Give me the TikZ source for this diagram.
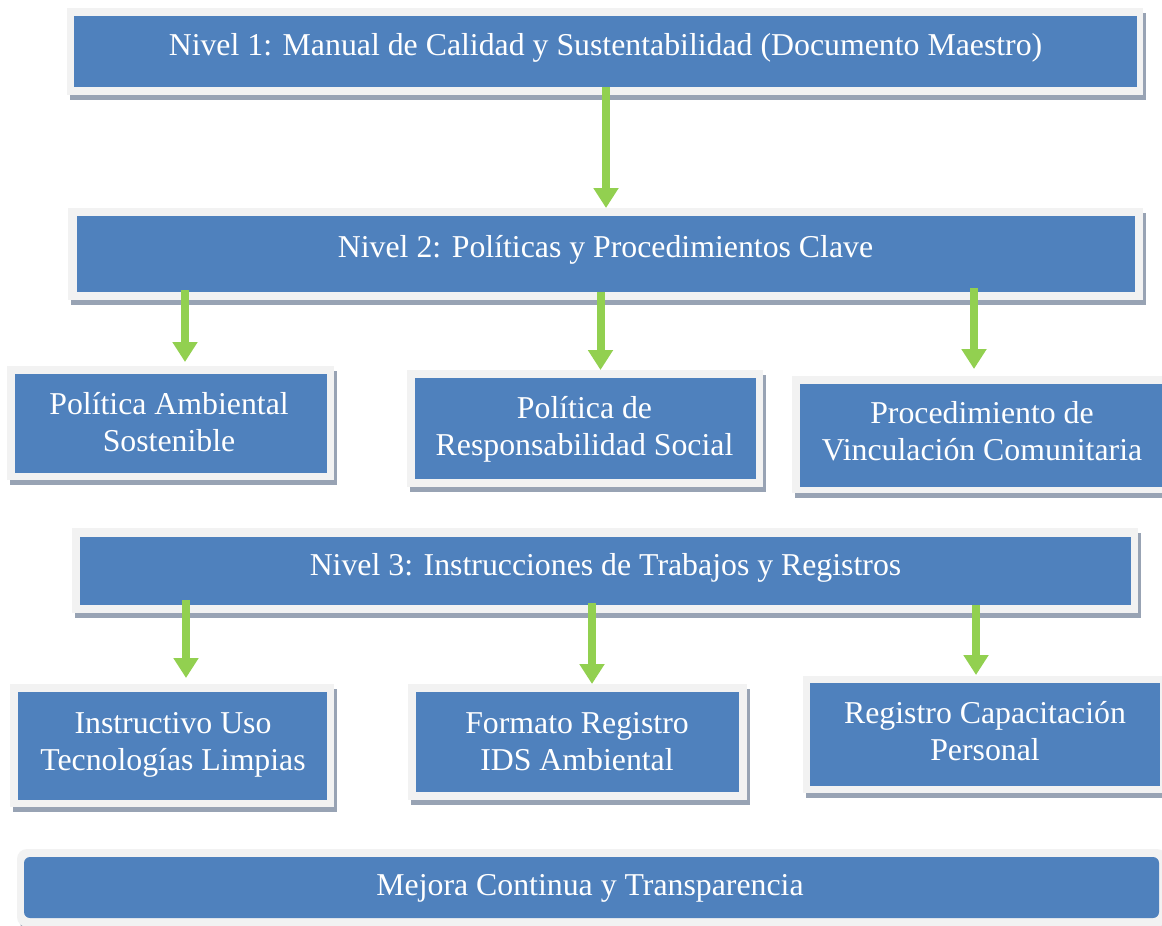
\documentclass[tikz,border=0pt]{standalone}
\usepackage{fontspec}
\setmainfont{Liberation Serif}
\usetikzlibrary{arrows.meta,shadows,fit,calc}
\definecolor{boxblue}{HTML}{4F81BD}
\definecolor{framegray}{HTML}{F2F2F2}
\definecolor{shadowgray}{HTML}{98A3B4}
\definecolor{arrowgreen}{HTML}{92D050}
\begin{document}
\begin{tikzpicture}[x=1pt,y=-1pt,
  frame/.style={fill=framegray, draw=none, inner sep=0pt, outer sep=0pt,
    general shadow={fill=shadowgray, shadow xshift=3pt, shadow yshift=-5pt}},
  inbox/.style={fill=boxblue, draw=none, inner sep=0pt, outer sep=0pt},
  txt/.style={text=white, font=\fontsize{31.8}{37}\selectfont, inner sep=0pt, anchor=base},
  arr/.style={draw=arrowgreen, line width=8pt, -{Triangle[width=24pt,length=20pt]}}]
\useasboundingbox (0,0) rectangle (1162,926);
\clip (0,0) rectangle (1162,926);
\fill[white] (0,0) rectangle (1162,926);

% Level 1
\node[frame, fit={(67,8) (1143,95)}] (n1) {};
\node[inbox, fit={(74,16) (1137,87)}] (n1in) {};
% Level 2
\node[frame, fit={(68,208) (1143,300)}] (n2) {};
\node[inbox, fit={(77,216) (1135,292)}] (n2in) {};
% Row 2 boxes
\node[frame, fit={(7,366) (334,480)}] (pa) {};
\node[inbox, fit={(15,374) (327,473)}] (pain) {};
\node[frame, fit={(407,370) (763,487)}] (pb) {};
\node[inbox, fit={(415,378) (756,479)}] (pbin) {};
\node[frame, fit={(792,376) (1178,493)}] (pc) {};
\node[inbox, fit={(800,384) (1170,487)}] (pcin) {};
% Level 3
\node[frame, fit={(72,528) (1138,613)}] (n3) {};
\node[inbox, fit={(80,537) (1131,605)}] (n3in) {};
% Row 3 boxes
\node[frame, fit={(10,684) (334,807)}] (pd) {};
\node[inbox, fit={(18,692) (327,800)}] (pdin) {};
\node[frame, fit={(408,684) (747,800)}] (pe) {};
\node[inbox, fit={(416,692) (739,792)}] (pein) {};
\node[frame, fit={(803,676) (1168,793)}] (pf) {};
\node[inbox, fit={(810,683) (1160,786)}] (pfin) {};
% Bottom box
\node[frame, rounded corners=10pt, fit={(17,849) (1167,927)}] (mej) {};
\node[inbox, rounded corners=6pt, fit={(24,857) (1159,918)}] (mejin) {};

% Texts
\node[txt] (t1) at (605.5,55) {Nivel 1: Manual de Calidad y Sustentabilidad (Documento Maestro)};
\node[txt] (t2) at (605.5,257) {Nivel 2: Políticas y Procedimientos Clave};
\node[txt] (t3) at (169,414) {\begin{tabular}[t]{@{}c@{}}Política Ambiental\\Sostenible\end{tabular}};
\node[txt] (t4) at (584.5,418) {\begin{tabular}[t]{@{}c@{}}Política de\\Responsabilidad Social\end{tabular}};
\node[txt] (t5) at (982,423) {\begin{tabular}[t]{@{}c@{}}Procedimiento de\\Vinculación Comunitaria\end{tabular}};
\node[txt] (t6) at (605.5,575) {Nivel 3: Instrucciones de Trabajos y Registros};
\node[txt] (t7) at (173,733) {\begin{tabular}[t]{@{}c@{}}Instructivo Uso\\Tecnologías Limpias\end{tabular}};
\node[txt] (t8) at (577,733) {\begin{tabular}[t]{@{}c@{}}Formato Registro\\IDS Ambiental\end{tabular}};
\node[txt] (t9) at (985,723) {\begin{tabular}[t]{@{}c@{}}Registro Capacitación\\Personal\end{tabular}};
\node[txt] (t10) at (590,895) {Mejora Continua y Transparencia};

% Arrow columns
\coordinate (c1) at (606,0);
\coordinate (c2) at (185,0);
\coordinate (c3) at (600.5,0);
\coordinate (c4) at (974,0);
\coordinate (c5) at (186,0);
\coordinate (c6) at (592,0);
\coordinate (c7) at (976,0);

\draw[arr] (c1 |- n1in.south) -- (c1 |- n2.north);
\draw[arr] ($(c2 |- n2in.south)+(0,-2)$) -- ($(c2 |- pa.north)+(0,-4)$);
\draw[arr] (c3 |- n2in.south) -- (c3 |- pb.north);
\draw[arr] ($(c4 |- n2in.south)+(0,-4)$) -- ($(c4 |- pc.north)+(0,-7)$);
\draw[arr] ($(c5 |- n3in.south)+(0,-5)$) -- ($(c5 |- pd.north)+(0,-6)$);
\draw[arr] ($(c6 |- n3in.south)+(0,-2)$) -- (c6 |- pe.north);
\draw[arr] (c7 |- n3in.south) -- ($(c7 |- pf.north)+(0,-1)$);
\end{tikzpicture}
\end{document}
